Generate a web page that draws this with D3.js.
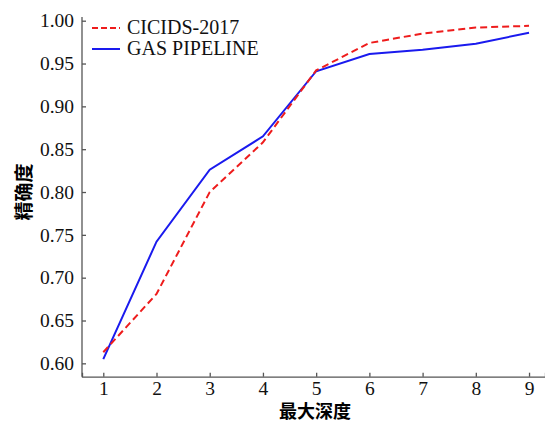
<!DOCTYPE html>
<html><head><meta charset="utf-8">
<script src="https://cdn.jsdelivr.net/npm/d3@7"></script>
<style>body{margin:0;background:#fff}svg{display:block}</style>
</head><body><svg id="c" width="545" height="422"></svg>
<script>
const depths = [1,2,3,4,5,6,7,8,9];
const cicids = [0.613,0.681,0.800,0.858,0.942,0.974,0.985,0.992,0.994];
const gas = [0.605,0.742,0.826,0.865,0.941,0.961,0.966,0.973,0.986];
const yTicks = [0.60,0.65,0.70,0.75,0.80,0.85,0.90,0.95,1.00];
const seriesNames = ["CICIDS-2017","GAS PIPELINE"];

const svg = d3.select("#c");
const x = d3.scaleLinear().domain([0.6,9.3]).range([82,545]);
const y = d3.scaleLinear().domain([0.5844,1.0]).range([376.7,20.7]);
const font = "'Liberation Serif','Times New Roman',serif";
const cjk = "'Noto Sans CJK SC',sans-serif";

const xa = svg.append("g").attr("transform","translate(0,376.7)")
  .call(d3.axisBottom(x).tickValues(depths).tickSize(-4).tickPadding(4).tickFormat(d3.format("d")));
const ya = svg.append("g").attr("transform","translate(82,0)")
  .call(d3.axisLeft(y).tickValues(yTicks).tickSize(-4).tickPadding(8).tickFormat(d3.format(".2f")));
ya.select(".domain").attr("d","M0,17V376.7");
[xa,ya].forEach(a=>{
  a.attr("font-family",null).attr("font-size",null);
  a.selectAll(".domain,line").attr("stroke","#555").attr("stroke-width",1.3);
  a.selectAll("text").style("font-family",font).style("font-size","19.5px").attr("fill","#111");
});

const line = d3.line().x((d,i)=>x(depths[i])).y(d=>y(d));
svg.append("path").datum(gas).attr("d",line).attr("fill","none")
  .attr("stroke","#1a1aee").attr("stroke-width",2);
svg.append("path").datum(cicids).attr("d",line).attr("fill","none")
  .attr("stroke","#ee1c1c").attr("stroke-width",2).attr("stroke-dasharray","7,4");

const leg = [{n:seriesNames[0],c:"#ee1c1c",d:"6,3",yy:28,by:34},{n:seriesNames[1],c:"#1a1aee",d:null,yy:49,by:55}];
leg.forEach(l=>{
  svg.append("line").attr("x1",92).attr("x2",120).attr("y1",l.yy).attr("y2",l.yy)
    .attr("stroke",l.c).attr("stroke-width",2).attr("stroke-dasharray",l.d);
  svg.append("text").attr("x",127).attr("y",l.by).text(l.n)
    .style("font-family",font).style("font-size","20px").attr("fill","#111");
});

svg.append("text").attr("transform","translate(31,192) rotate(-90)").attr("text-anchor","middle")
  .style("font-family",cjk).attr("font-weight","bold").style("font-size","19px").text("精确度");
svg.append("text").attr("x",315).attr("y",418).attr("text-anchor","middle")
  .style("font-family",cjk).attr("font-weight","bold").style("font-size","18px").text("最大深度");
</script></body></html>
